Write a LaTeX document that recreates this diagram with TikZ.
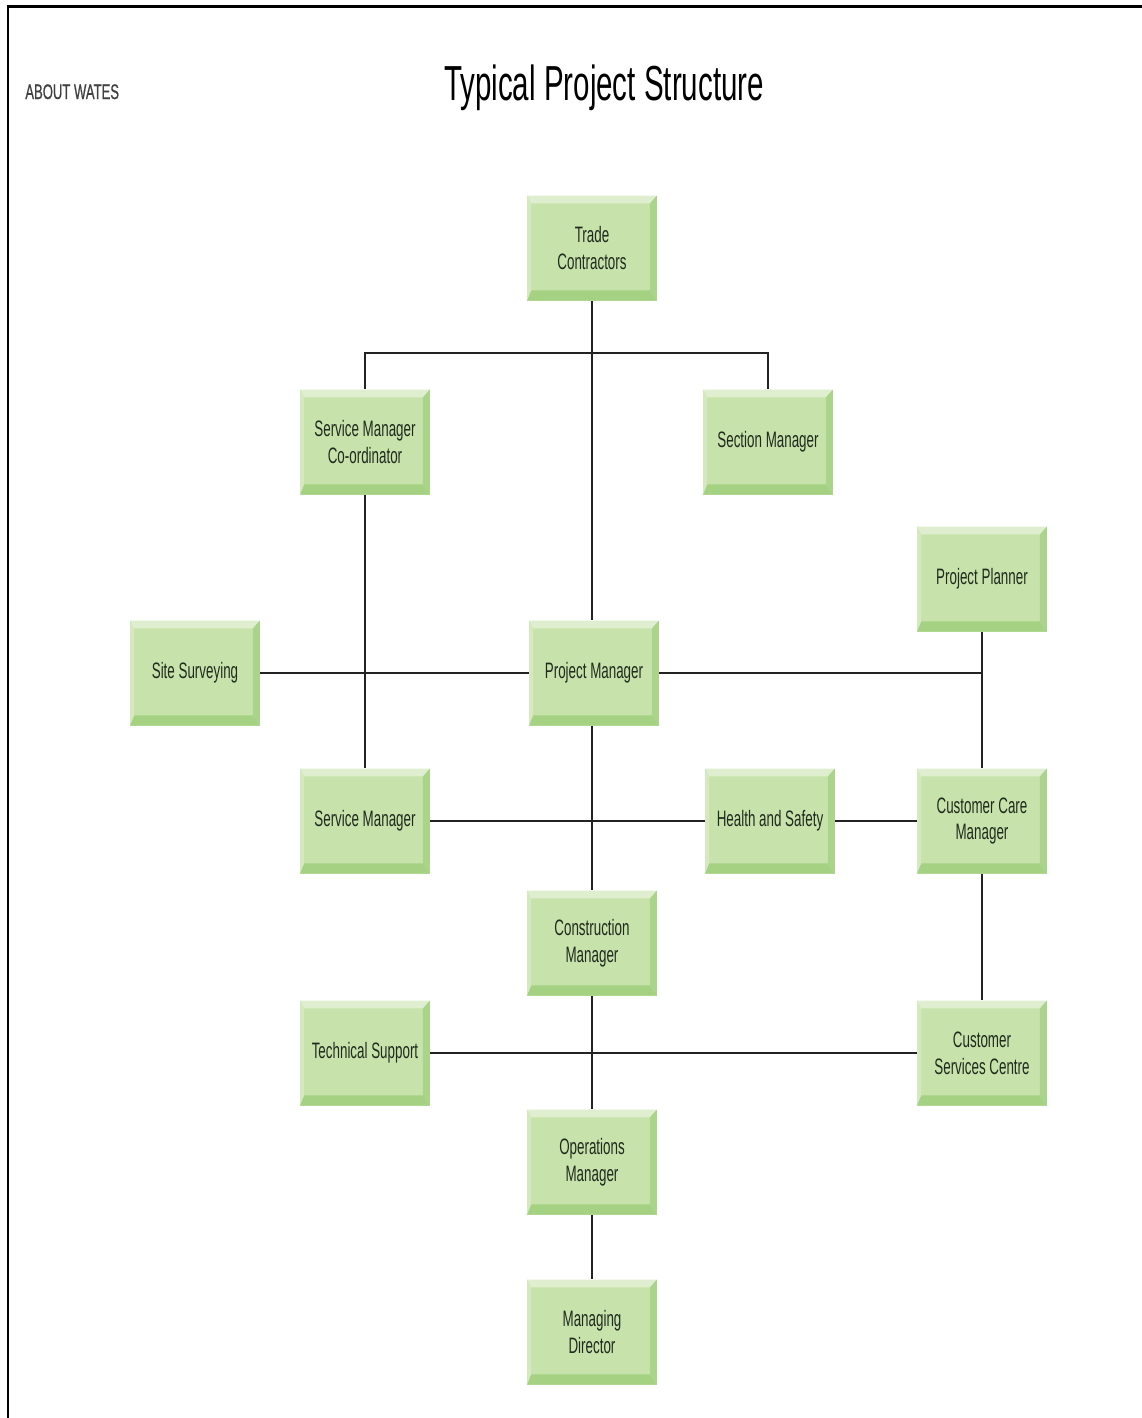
\documentclass[tikz,border=0pt]{standalone}
\usepackage{fontspec}
\setmainfont{Liberation Sans}[FakeStretch=0.6]
\newfontfamily\aboutfont{Liberation Sans}[FakeStretch=0.62, FakeBold=0.6]
\definecolor{boxface}{HTML}{C7E2AA}
\definecolor{boxtop}{HTML}{DEEECE}
\definecolor{boxleft}{HTML}{D4EABE}
\definecolor{boxright}{HTML}{AAD48C}
\definecolor{boxbottom}{HTML}{A4D282}
\definecolor{boxtext}{HTML}{1F2B1F}
\definecolor{linkcol}{HTML}{222222}

\begin{document}
\begin{tikzpicture}[x=0.02cm, y=-0.02cm,
  bevelbox/.style={fill=boxface, minimum width=2.6cm, minimum height=2.1cm,
    inner sep=0pt, align=center, text=boxtext,
    font=\fontsize{12.7}{15.3}\selectfont,
    path picture={
      \fill[boxtop] (path picture bounding box.north west) -- (path picture bounding box.north east)
        -- ([xshift=-4pt,yshift=-4.5pt]path picture bounding box.north east)
        -- ([xshift=2.3pt,yshift=-4.5pt]path picture bounding box.north west) -- cycle;
      \fill[boxbottom] (path picture bounding box.south west) -- (path picture bounding box.south east)
        -- ([xshift=-4pt,yshift=5.7pt]path picture bounding box.south east)
        -- ([xshift=2.3pt,yshift=5.7pt]path picture bounding box.south west) -- cycle;
      \fill[boxright] (path picture bounding box.north east) -- (path picture bounding box.south east)
        -- ([xshift=-4pt,yshift=5.7pt]path picture bounding box.south east)
        -- ([xshift=-4pt,yshift=-4.5pt]path picture bounding box.north east) -- cycle;
      \fill[boxleft] (path picture bounding box.north west) -- (path picture bounding box.south west)
        -- ([xshift=2.3pt,yshift=5.7pt]path picture bounding box.south west)
        -- ([xshift=2.3pt,yshift=-4.5pt]path picture bounding box.north west) -- cycle;
    }},
  link/.style={draw=linkcol, line width=1.1pt}]
\useasboundingbox (0,0) rectangle (1142,1418);
\draw [line width=1.7pt] (8,1418) -- (8,6) -- (1142,6);
\node [anchor=base west, inner sep=0pt, text=black!75, font=\aboutfont\fontsize{12}{14}\selectfont] (about) at (25,99) {ABOUT WATES};
\node [anchor=base, font=\fontsize{28}{32}\selectfont] (title) at (604,100) {Typical Project Structure};
\node [bevelbox] (trade) at (592,248) {Trade\\Contractors};
\node [bevelbox] (smc) at (365,442) {Service Manager\\Co-ordinator};
\node [bevelbox] (sect) at (768,442) {Section Manager};
\node [bevelbox] (planner) at (982,579) {Project Planner};
\node [bevelbox] (site) at (195,673) {Site Surveying};
\node [bevelbox] (pm) at (594,673) {Project Manager};
\node [bevelbox] (sm) at (365,821) {Service Manager};
\node [bevelbox] (hs) at (770,821) {Health and Safety};
\node [bevelbox] (care) at (982,821) {Customer Care\\Manager};
\node [bevelbox] (cm) at (592,943) {Construction\\Manager};
\node [bevelbox] (tech) at (365,1053) {Technical Support};
\node [bevelbox] (csc) at (982,1053) {Customer\\Services Centre};
\node [bevelbox] (ops) at (592,1162) {Operations\\Manager};
\node [bevelbox] (md) at (592,1332) {Managing\\Director};
\draw [link] (trade.south) -- (trade.south |- pm.north);
\draw [link] (smc.north) -- ++(0,-36) -| (sect.north);
\draw [link] (smc) -- (sm);
\draw [link] (site) -- (pm);
\draw [link] (pm.east) -- (pm.east -| planner.south);
\draw [link] (planner) -- (care);
\draw [link] (cm.north |- pm.south) -- (cm.north);
\draw [link] (sm) -- (hs);
\draw [link] (hs) -- (care);
\draw [link] (care) -- (csc);
\draw [link] (tech) -- (csc);
\draw [link] (cm) -- (ops);
\draw [link] (ops) -- (md);
\end{tikzpicture}
\end{document}
